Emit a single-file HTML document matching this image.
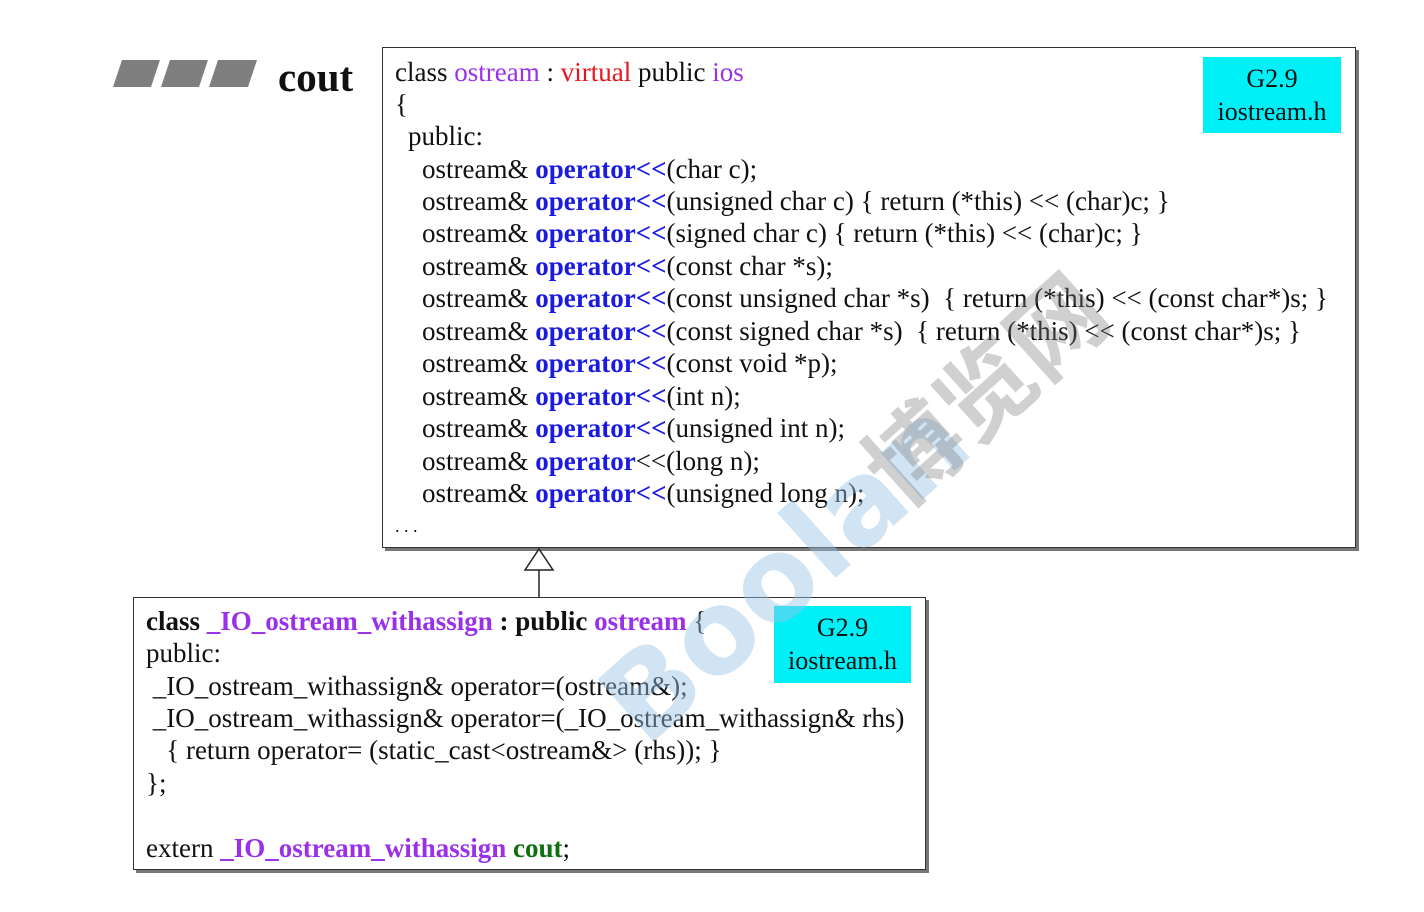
<!DOCTYPE html>
<html><head><meta charset="utf-8"><style>
body{margin:0;width:1424px;height:912px;background:#fff;position:relative;overflow:hidden;font-family:"Liberation Serif",serif;color:#111}
.l{position:absolute;white-space:pre;font-size:27px;line-height:30px}
.p{color:#9a30e8}.r{color:#e8141e}.b{color:#1a1ae0;font-weight:bold}.g{color:#107010;font-weight:bold}
.box{position:absolute;border:1.5px solid #333;box-shadow:3px 3px 0 #777;background:#fff}
.cy{position:absolute;background:#00f0f8;text-align:center;font-size:26px;line-height:33px;padding-top:5px;box-sizing:border-box}
</style></head><body>
<svg style="position:absolute;left:0;top:0" width="1424" height="912">
<polygon points="122,60 160,60 151,87 113,87" fill="#7f7f7f"/>
<polygon points="170,60 208,60 199,87 161,87" fill="#7f7f7f"/>
<polygon points="218,60 257,60 248,87 209,87" fill="#7f7f7f"/>
</svg>
<div class="l" style="left:278px;top:56px;font-size:41px;line-height:42px;font-weight:bold">cout</div>
<div class="box" style="left:382px;top:47px;width:972px;height:499px"></div>
<div class="cy" style="left:1203px;top:57px;width:138px;height:76px">G2.9<br>iostream.h</div>
<div class="l" style="left:395px;top:57px">class <span class="p">ostream</span> : <span class="r">virtual</span> public <span class="p">ios</span></div>
<div class="l" style="left:395px;top:89px">{</div>
<div class="l" style="left:408px;top:121px">public:</div>
<div class="l" style="left:422px;top:154px">ostream&amp; <span class="b">operator&lt;&lt;</span>(char c);</div>
<div class="l" style="left:422px;top:186px">ostream&amp; <span class="b">operator&lt;&lt;</span>(unsigned char c) { return (*this) &lt;&lt; (char)c; }</div>
<div class="l" style="left:422px;top:218px">ostream&amp; <span class="b">operator&lt;&lt;</span>(signed char c) { return (*this) &lt;&lt; (char)c; }</div>
<div class="l" style="left:422px;top:251px">ostream&amp; <span class="b">operator&lt;&lt;</span>(const char *s);</div>
<div class="l" style="left:422px;top:283px">ostream&amp; <span class="b">operator&lt;&lt;</span>(const unsigned char *s)  { return (*this) &lt;&lt; (const char*)s; }</div>
<div class="l" style="left:422px;top:316px">ostream&amp; <span class="b">operator&lt;&lt;</span>(const signed char *s)  { return (*this) &lt;&lt; (const char*)s; }</div>
<div class="l" style="left:422px;top:348px">ostream&amp; <span class="b">operator&lt;&lt;</span>(const void *p);</div>
<div class="l" style="left:422px;top:381px">ostream&amp; <span class="b">operator&lt;&lt;</span>(int n);</div>
<div class="l" style="left:422px;top:413px">ostream&amp; <span class="b">operator&lt;&lt;</span>(unsigned int n);</div>
<div class="l" style="left:422px;top:446px">ostream&amp; <span class="b">operator</span>&lt;&lt;(long n);</div>
<div class="l" style="left:422px;top:478px">ostream&amp; <span class="b">operator&lt;&lt;</span>(unsigned long n);</div>
<div class="l" style="left:395px;top:511px;font-size:18px">. . .</div>
<svg style="position:absolute;left:0;top:0" width="1424" height="912">
<polygon points="539,549 553,570 525,570" fill="#fff" stroke="#222" stroke-width="1.5"/>
<line x1="539" y1="570" x2="539" y2="597" stroke="#222" stroke-width="1.5"/>
</svg>
<div class="box" style="left:133px;top:597px;width:791px;height:271px"></div>
<div class="cy" style="left:774px;top:606px;width:137px;height:77px">G2.9<br>iostream.h</div>
<div class="l" style="left:146px;top:606px"><b>class</b> <b class="p">_IO_ostream_withassign</b> <b>: public</b> <b class="p">ostream</b> {</div>
<div class="l" style="left:146px;top:638px">public:</div>
<div class="l" style="left:146px;top:671px"> _IO_ostream_withassign&amp; operator=(ostream&amp;);</div>
<div class="l" style="left:146px;top:703px"> _IO_ostream_withassign&amp; operator=(_IO_ostream_withassign&amp; rhs)</div>
<div class="l" style="left:146px;top:735px">   { return operator= (static_cast&lt;ostream&amp;&gt; (rhs)); }</div>
<div class="l" style="left:146px;top:768px">};</div>
<div class="l" style="left:146px;top:833px">extern <b class="p">_IO_ostream_withassign</b> <span class="g">cout</span>;</div>
<div style="position:absolute;left:575px;top:670px;font:bold 115px 'DejaVu Sans',sans-serif;color:rgba(150,195,230,0.45);transform:rotate(-42deg);transform-origin:0 0;white-space:nowrap">Boolan</div>
<div style="position:absolute;left:830px;top:430px;font:bold 95px 'Noto Sans CJK SC',sans-serif;color:rgba(120,120,120,0.35);transform:rotate(-42deg);transform-origin:0 0;white-space:nowrap">博览网</div>
</body></html>
